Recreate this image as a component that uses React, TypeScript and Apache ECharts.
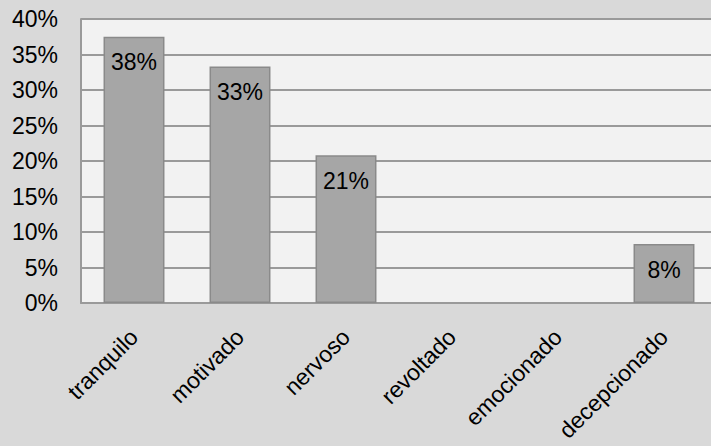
import React, { useEffect, useRef } from "react";
import * as echarts from "echarts";

const categories = ["tranquilo", "motivado", "nervoso", "revoltado", "emocionado", "decepcionado"];
const values = [37.5, 33.3, 20.8, 0, 0, 8.3];
const yTicks = [0, 5, 10, 15, 20, 25, 30, 35, 40];

const FONT = "Liberation Sans, Arial, sans-serif";

export default function App() {
  const ref = useRef<HTMLDivElement>(null);
  useEffect(() => {
    document.body.style.margin = "0";
    const chart = echarts.init(ref.current!, null, { renderer: "svg" });
    chart.setOption({
      animation: false,
      backgroundColor: "#d9d9d9",
      grid: {
        left: 81,
        top: 19,
        right: -6,
        bottom: 143,
        show: true,
        backgroundColor: "#f2f2f2",
        borderWidth: 0,
        outerBoundsMode: "none",
        containLabel: false,
      },
      xAxis: {
        type: "category",
        data: categories,
        axisLine: { show: true, lineStyle: { color: "#9a9a9a", width: 2 } },
        axisTick: { show: false },
        axisLabel: {
          rotate: 45,
          interval: 0,
          margin: 30,
          color: "#000",
          fontSize: 23,
          fontFamily: FONT,
        },
      },
      yAxis: {
        type: "value",
        min: yTicks[0],
        max: yTicks[yTicks.length - 1],
        interval: 5,
        axisLine: { show: true, lineStyle: { color: "#9a9a9a", width: 2 } },
        axisTick: { show: false },
        splitLine: { show: true, lineStyle: { color: "#9a9a9a", width: 2 } },
        axisLabel: {
          formatter: (v: number) => v + "%",
          margin: 23,
          color: "#000",
          fontSize: 23,
          fontFamily: FONT,
        },
      },
      series: [
        {
          type: "bar",
          data: values.map((v) => (v === 0 ? null : v)),
          barWidth: "57.5%",
          itemStyle: { color: "#a6a6a6", borderColor: "#8a8a8a", borderWidth: 1.5 },
          label: {
            show: true,
            position: "insideTop",
            distance: 14,
            formatter: (p: any) => Math.round(p.value) + "%",
            color: "#000",
            fontSize: 23,
            fontFamily: FONT,
          },
        },
      ],
    });
    return () => chart.dispose();
  }, []);
  return <div ref={ref} style={{ width: 711, height: 446 }} />;
}
